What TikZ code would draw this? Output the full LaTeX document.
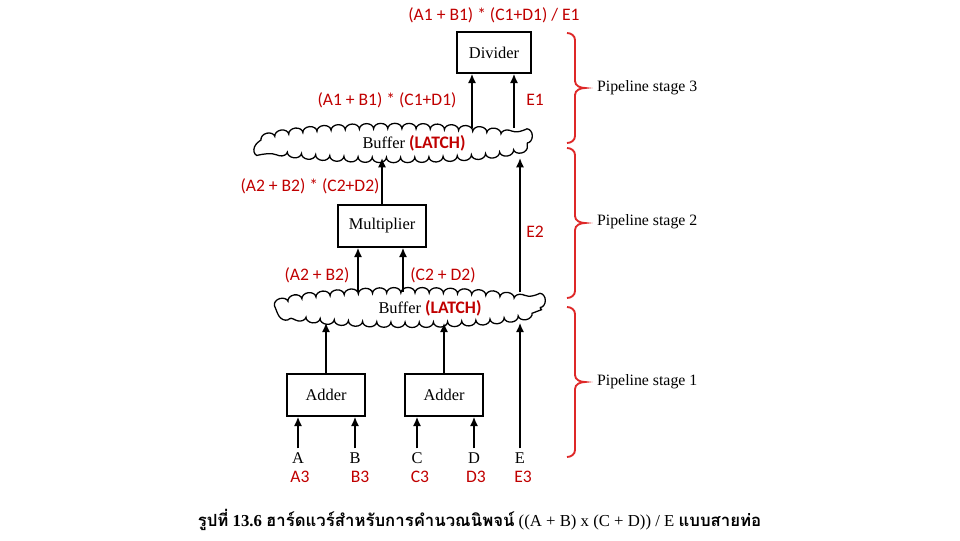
\documentclass[tikz,border=0pt]{standalone}
\usepackage{fontspec}
\setmainfont{Liberation Serif}
\newfontfamily\redfont{Carlito}
\newfontfamily\thaifont[Script=Thai]{Loma}
\usepackage{xcolor}
\usetikzlibrary{arrows.meta,positioning,shapes.geometric,decorations.pathmorphing}
\definecolor{latchred}{RGB}{192,0,0}
\definecolor{bracered}{RGB}{222,40,40}
\newcommand{\latch}{{\color{latchred}\redfont\bfseries\fontsize{15}{18}\selectfont(LATCH)}}

\begin{document}
\begin{tikzpicture}[x=0.3mm,y=-0.3mm,
    unit/.style={draw,line width=1.3pt,inner sep=0pt,font=\fontsize{14}{16}\selectfont},
    buffer/.style={ellipse,draw,line width=1.1pt,inner sep=0pt,decorate,
      decoration={bumps,segment length=8.5mm,amplitude=1.6mm,mirror}},
    tag/.style={text=latchred,font=\redfont\fontsize{15}{18}\selectfont},
    inlbl/.style={font=\fontsize{14}{16}\selectfont},
    stage/.style={anchor=west,font=\fontsize{13.5}{16}\selectfont},
    sig/.style={line width=1.4pt,-{Latex[length=8pt,width=7pt]}},
    stagebrace/.style={draw=bracered,line width=1.6pt}]
        \useasboundingbox (0,0) rectangle (960,540);

        % Units
        \node[unit,minimum width=22.2mm,minimum height=12.3mm] (div) at (494,52.5) {Divider};
        \node[unit,minimum width=26.4mm,minimum height=12.6mm] (mul) at (382,226) {Multiplier};
        \node[unit,minimum width=23.4mm,minimum height=12.6mm] (add1) at (326,395) {Adder};
        \node[unit,minimum width=23.4mm,minimum height=12.6mm] (add2) at (444,395) {Adder};

        % Buffers
        \node[buffer,minimum width=79.5mm,minimum height=8.6mm] (buf3) at (394.5,143) {};
        \node[buffer,minimum width=78.6mm,minimum height=8.8mm] (buf2) at (409,307.5) {};
        \node[inlbl] (bt3) at (414,143) {Buffer \latch};
        \node[inlbl] (bt2) at (430,308) {Buffer \latch};

        % Inputs
        \node[inlbl] (lA) at (298,458) {A};
        \node[inlbl] (lB) at (355,458) {B};
        \node[inlbl] (lC) at (417,458) {C};
        \node[inlbl] (lD) at (474,458) {D};
        \node[inlbl] (lE) at (520,458) {E};
        \node[tag] (rA) at (300,477) {A3};
        \node[tag] (rB) at (360,477) {B3};
        \node[tag] (rC) at (420,477) {C3};
        \node[tag] (rD) at (476,477) {D3};
        \node[tag] (rE) at (523,477) {E3};

        % Signals
        \coordinate (divA) at ([xshift=-6.6mm]div.south);
        \coordinate (divB) at ([xshift=6mm]div.south);
        \coordinate (mulA) at ([xshift=-7.2mm]mul.south);
        \coordinate (mulB) at ([xshift=6.3mm]mul.south);
        \draw[sig] (divA |- buf3.north) -- (divA);
        \draw[sig] (divB |- buf3.north) -- (divB);
        \draw[sig] (mul.north) -- (mul.north |- buf3.south);
        \draw[sig] (mulA |- buf2.north) -- (mulA);
        \draw[sig] (mulB |- buf2.north) -- (mulB);
        \draw[sig] (lE.north |- buf2.north) -- (lE.north |- buf3.south);
        \draw[sig] (add1.north) -- (add1.north |- buf2.south);
        \draw[sig] (add2.north) -- (add2.north |- buf2.south);
        \draw[sig] (lE.north) -- (lE.north |- buf2.south);
        \foreach \l/\a in {lA/add1,lB/add1,lC/add2,lD/add2}
          \draw[sig] (\l.north) -- (\l.north |- \a.south);

        % Values
        \node[tag] (v3) at (494,15) {(A1 + B1) * (C1+D1) / E1};
        \node[tag] (v3a) at (387,100) {(A1 + B1) * (C1+D1)};
        \node[tag] (v3b) at (535,100) {E1};
        \node[tag] (v2) at (310,186) {(A2 + B2) * (C2+D2)};
        \node[tag] (v2e) at (535,232) {E2};
        \node[tag] (v2a) at (317,275) {(A2 + B2)};
        \node[tag] (v2b) at (443,275) {(C2 + D2)};

        % Stages
        \foreach \t/\b in {33/143,148/298,307/457} {
          \pgfmathsetmacro{\m}{(\t+\b)/2}
          \draw[stagebrace] (567,\t) to[out=0,in=90] (575,\t+7) -- (575,\m-7)
            to[out=270,in=180] (585,\m) to[out=180,in=90] (575,\m+7)
            -- (575,\b-7) to[out=270,in=0] (567,\b);
        }
        \node[stage] (st3) at (593,88) {Pipeline stage 3};
        \node[stage] (st2) at (593,222) {Pipeline stage 2};
        \node[stage] (st1) at (593,382) {Pipeline stage 1};

        % Caption
        \node[font=\fontsize{14.3}{18}\selectfont] (cap) at (479.5,520)
          {{\thaifont\bfseries รูปที่} \textbf{13.6} {\thaifont\bfseries ฮาร์ดแวร์สำหรับการคำนวณนิพจน์} ((A + B) x (C + D)) / E {\thaifont\bfseries แบบสายท่อ}};
      \end{tikzpicture}
\end{document}
